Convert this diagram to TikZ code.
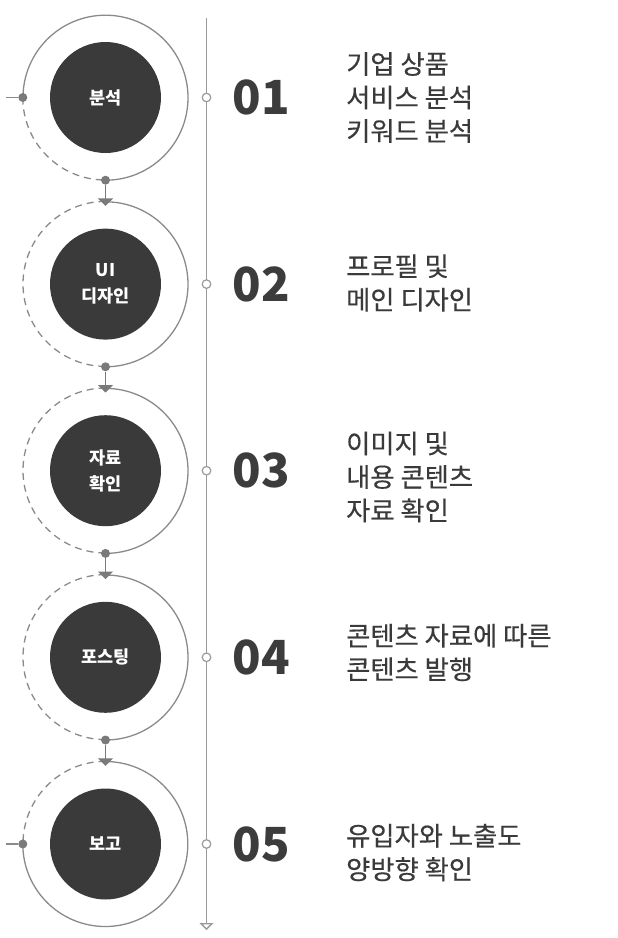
\documentclass[tikz,border=0pt]{standalone}
\usepackage{fontspec}
\setmainfont{Noto Sans CJK KR}
\newfontfamily\descfont[FakeBold=0.35]{Noto Sans CJK KR}
\usetikzlibrary{arrows.meta}
\definecolor{corec}{HTML}{3A3A3A}
\definecolor{ringc}{HTML}{8A8A8A}
\definecolor{dotc}{HTML}{7A7A7A}
\definecolor{linec}{HTML}{9A9A9A}
\definecolor{numc}{HTML}{3C3C3C}
\definecolor{txtc}{HTML}{3A3A3A}
\tikzset{
  ring/.style={circle, minimum size=165pt, inner sep=0pt},
  core/.style={circle, fill=corec, minimum size=111pt, inner sep=0pt, text=white,
    font=\bfseries\fontsize{17.5}{26}\selectfont, align=center},
  dotn/.style={circle, fill=dotc, minimum size=9pt, inner sep=0pt},
  tickmk/.style={circle, draw=linec, fill=white, line width=1.2pt, minimum size=8.6pt, inner sep=0pt},
  num/.style={font=\bfseries\fontsize{47}{47}\selectfont, text=numc, inner sep=0pt},
  desc/.style={anchor=west, align=left, font=\descfont\fontsize{26.3}{33.5}\selectfont, text=txtc, inner sep=0pt},
  ringline/.style={draw=ringc, line width=1.3pt},
  dashring/.style={ringline, dash pattern=on 7pt off 5pt},
  conn/.style={draw=dotc, line width=1.3pt, -{Triangle[width=15pt,length=7.5pt]}},
  vline/.style={draw=linec, line width=1.4pt, -{Triangle[width=14pt,length=7pt,fill=white]}}
}
\begin{document}
\begin{tikzpicture}[x=1pt,y=-1pt]
\useasboundingbox (0,0) rectangle (618,938);
% rings (positions)
\node[ring] (r1) at (105.5,97.5) {};
\node[ring] (r2) at (105.5,284.1) {};
\node[ring] (r3) at (105.5,470.7) {};
\node[ring] (r4) at (105.5,657.3) {};
\node[ring] (r5) at (105.5,844) {};
% ring arcs
\draw[ringline] (r1.south) arc[start angle=-90, end angle=180, radius=82.5pt];
\draw[dashring] (r1.west) arc[start angle=180, end angle=270, radius=82.5pt];
\foreach \r in {r2,r3,r4}{
  \draw[ringline] (\r.south) arc[start angle=-90, end angle=90, radius=82.5pt];
  \draw[dashring] (\r.north) arc[start angle=90, end angle=270, radius=82.5pt];
}
\draw[ringline] (r5.west) arc[start angle=180, end angle=450, radius=82.5pt];
\draw[dashring] (r5.north) arc[start angle=90, end angle=180, radius=82.5pt];
% dots
\node[dotn] (l1) at (r1.west) {};
\node[dotn] (l5) at (r5.west) {};
\node[dotn] (d1) at (r1.south) {};
\node[dotn] (d2) at (r2.south) {};
\node[dotn] (d3) at (r3.south) {};
\node[dotn] (d4) at (r4.south) {};
\coordinate (s1) at (6,97.5);
\coordinate (s5) at (6,844);
\draw[ringline] (s1) -- (l1);
\draw[ringline] (s5) -- (l5);
% connectors
\draw[conn] (d1) -- ([yshift=-4.5pt]r2.north);
\draw[conn] (d2) -- ([yshift=-4.5pt]r3.north);
\draw[conn] (d3) -- ([yshift=-4.5pt]r4.north);
\draw[conn] (d4) -- ([yshift=-4.5pt]r5.north);
% cores
\node[core] (c1) at (r1) {분석};
\node[core] (c2) at (r2) {UI\\디자인};
\node[core] (c3) at (r3) {자료\\확인};
\node[core] (c4) at (r4) {포스팅};
\node[core] (c5) at (r5) {보고};
% vertical timeline
\coordinate (vtop) at (206.5,18);
\coordinate (vbot) at (206.5,930);
\draw[vline] (vtop) -- (vbot);
\node[tickmk] (k1) at (206.5,97.5) {};
\node[tickmk] (k2) at (206.5,284.1) {};
\node[tickmk] (k3) at (206.5,470.7) {};
\node[tickmk] (k4) at (206.5,657.3) {};
\node[tickmk] (k5) at (206.5,844) {};
% numbers
\node[num] (n1) at (261,97.5) {01};
\node[num] (n2) at (261,284.1) {02};
\node[num] (n3) at (261,470.7) {03};
\node[num] (n4) at (261,657.3) {04};
\node[num] (n5) at (261,844) {05};
% descriptions
\node[desc] (t1) at (346,97.5) {기업 상품\\서비스 분석\\키워드 분석};
\node[desc] (t2) at (346,283) {프로필 및\\메인 디자인};
\node[desc] (t3) at (346,477) {이미지 및\\내용 콘텐츠\\자료 확인};
\node[desc] (t4) at (346,652.5) {콘텐츠 자료에 따른\\콘텐츠 발행};
\node[desc] (t5) at (346,852.5) {유입자와 노출도\\양방향 확인};
\end{tikzpicture}
\end{document}
